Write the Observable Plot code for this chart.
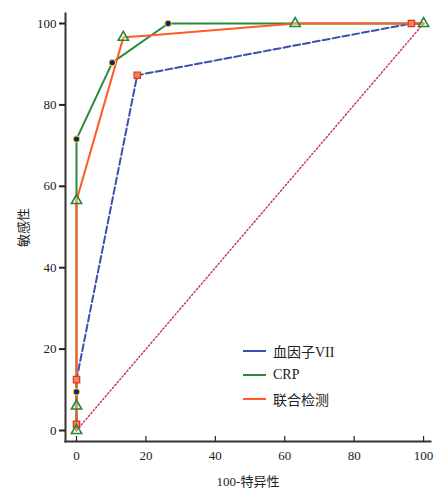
<!DOCTYPE html>
<html><head><meta charset="utf-8">
<script src="https://cdn.jsdelivr.net/npm/d3@7"></script>
<script src="https://cdn.jsdelivr.net/npm/@observablehq/plot@0.6"></script>
<style>
body{margin:0;background:#fff;}
#wrap{position:relative;width:436px;height:490px;}
#legend{position:absolute;left:243px;top:339px;font-family:'Times New Roman',Times,'Liberation Serif','DejaVu Serif','Noto Sans CJK SC',serif;font-size:14px;color:#222;}
#legend div{display:flex;align-items:center;height:24px;}
#legend span.sw{display:inline-block;width:23px;height:0;border-top:2.5px solid;margin-right:7px;}
svg text{font-family:'Times New Roman',Times,'Liberation Serif','DejaVu Serif','Noto Sans CJK SC',serif !important;}
</style></head>
<body><div id="wrap"><div id="chart"></div><div id="legend"></div></div>
<script>
const seriesNames = ["血因子VII", "CRP", "联合检测"];
const seriesColors = ["#3b4fb0", "#2a8a3a", "#ff5a28"];
// ROC points (100-specificity, sensitivity)
const f7X = [0, 0, 17.5, 96.5, 100];
const f7Y = [0, 12.5, 87.3, 100, 100];
const crpX = [0, 0, 0, 10.3, 26.4, 63, 100];
const crpY = [0, 9.5, 71.6, 90.4, 100, 100, 100];
const combX = [0, 0, 0, 13.5, 20, 63, 100];
const combY = [0, 6, 56.5, 96.6, 97, 100, 100];
// marker points per series
const f7MX = [0, 0, 17.5, 96.5];
const f7MY = [1.5, 12.5, 87.3, 100];
const crpMX = [0, 0, 10.3, 26.4];
const crpMY = [9.5, 71.6, 90.4, 100];
const combMX = [0, 0, 0, 13.5, 63, 100];
const combMY = [0, 6, 56.5, 96.6, 100, 100];
const diagX = [0, 100];
const diagY = [0, 100];
const xTicks = [0, 20, 40, 60, 80, 100];
const yTicks = [0, 20, 40, 60, 80, 100];

const pts = (xs, ys) => xs.map((x, i) => ({x, y: ys[i]}));
const font = "'Times New Roman',Times,'Liberation Serif','DejaVu Serif','Noto Sans CJK SC',serif";

const chart = Plot.plot({
  width: 436, height: 490,
  marginLeft: 65, marginRight: 6, marginTop: 13, marginBottom: 49,
  style: {fontFamily: font, fontSize: "13px", color: "#222", background: "#fff"},
  x: {domain: [-3.17, 102], label: null},
  y: {domain: [-2.7, 102.46], label: null},
  marks: [
    Plot.line(pts(diagX, diagY), {x: "x", y: "y", stroke: "#c8304a", strokeWidth: 1.4, strokeDasharray: "1.5,2.2"}),
    Plot.line(pts(f7X, f7Y), {x: "x", y: "y", stroke: seriesColors[0], strokeWidth: 2, strokeDasharray: "7,3"}),
    Plot.line(pts(crpX, crpY), {x: "x", y: "y", stroke: seriesColors[1], strokeWidth: 2}),
    Plot.line(pts(combX, combY), {x: "x", y: "y", stroke: seriesColors[2], strokeWidth: 2}),
    Plot.dot(pts(f7MX, f7MY), {x: "x", y: "y", symbol: "square", r: 3.6, fill: "#f08a40", stroke: "#e03030", strokeWidth: 1.2}),
    Plot.dot(pts(crpMX, crpMY), {x: "x", y: "y", symbol: "circle", r: 3.2, fill: "#1a1a90", stroke: "#e8e030", strokeWidth: 1.1}),
    Plot.dot(pts(combMX, combMY), {x: "x", y: "y", symbol: "triangle", r: 3.8, fill: "#fff", fillOpacity: 0.3, stroke: "#1f8a30", strokeWidth: 1.6}),
    Plot.frame({anchor: "left", stroke: "#333", strokeWidth: 2}),
    Plot.frame({anchor: "bottom", stroke: "#333", strokeWidth: 2}),
    Plot.axisY(yTicks, {tickSize: 6, tickPadding: 3, strokeWidth: 2, fontSize: 13, label: "敏感性", labelArrow: "none", labelAnchor: "center", labelOffset: 47}),
    Plot.axisX(xTicks, {tickSize: -5, text: null, strokeWidth: 1.2, label: null}),
    Plot.axisX(xTicks, {tickSize: 0, tickPadding: 9, fontSize: 13, label: "100-特异性", labelArrow: "none", labelAnchor: "center", labelOffset: 44})
  ]
});
document.getElementById("chart").appendChild(chart);
const lg = document.getElementById("legend");
seriesNames.forEach((n, i) => {
  const d = document.createElement("div");
  d.innerHTML = `<span class="sw" style="border-color:${seriesColors[i]}"></span>${n}`;
  lg.appendChild(d);
});
</script></body></html>
